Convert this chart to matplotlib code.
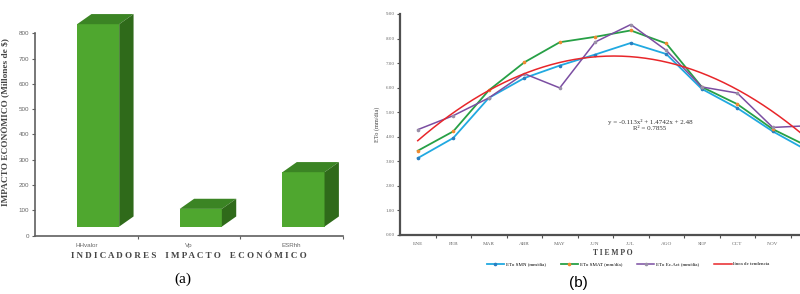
import numpy as np
import matplotlib
matplotlib.use('Agg')
import matplotlib.pyplot as plt
from matplotlib.patches import Polygon

# ============================================================
# 数据
# ============================================================
indicadores = ['HHvalor', 'Vp', 'ESRhh']
impacto = [800, 70, 215]          # Millones de $

meses = ['ENE', 'FEB', 'MAR', 'ABR', 'MAY', 'JUN', 'JUL', 'AGO', 'SEP', 'OCT', 'NOV', 'DIC']
eto_smn = [3.13, 3.95, 5.58, 6.39, 6.90, 7.35, 7.82, 7.37, 5.95, 5.17, 4.22, 3.42]
eto_smat = [3.43, 4.22, 5.89, 7.03, 7.85, 8.07, 8.33, 7.80, 6.03, 5.33, 4.31, 3.60]
eto_ecact = [4.29, 4.86, 5.58, 6.57, 5.99, 7.86, 8.57, 7.52, 6.03, 5.78, 4.38, 4.45]
tendencia_coef = [-0.113, 1.4742, 2.48]   # y = -0.113x² + 1.4742x + 2.48

fig = plt.figure(figsize=(8, 2.94), dpi=100)
serif = 'Liberation Serif'
sans = 'Liberation Sans'
axis_col = '#606060'

# ============================================================
# (a) 3D 柱状图
# ============================================================
ax1 = fig.add_axes([35 / 800, 0.1983, 308 / 800, 0.7745])
ax1.set_xlim(0, 3)
ax1.set_ylim(0, 900)
base = 36
dx, dy = 0.14, 40
for i, v in enumerate(impacto):
    c = i + 0.5
    x0, x1 = c - 0.09, c + 0.32
    top = base + v
    # 正面 / 顶面 / 侧面
    ax1.add_patch(Polygon([(x0, base), (x1, base), (x1, top), (x0, top)],
                          closed=True, facecolor='#4fa72f', edgecolor='none'))
    ax1.add_patch(Polygon([(x0, top), (x1, top), (x1 + dx, top + dy), (x0 + dx, top + dy)],
                          closed=True, facecolor='#3b8424', edgecolor='none'))
    ax1.add_patch(Polygon([(x1, base), (x1 + dx, base + dy), (x1 + dx, top + dy), (x1, top)],
                          closed=True, facecolor='#2f6a1a', edgecolor='none'))

for s in ['top', 'right']:
    ax1.spines[s].set_visible(False)
ax1.spines['left'].set_bounds(0, 800)
for s in ['left', 'bottom']:
    ax1.spines[s].set_color(axis_col)
    ax1.spines[s].set_linewidth(1.2)
ax1.set_yticks(range(0, 801, 100))
ax1.set_yticklabels([str(v) for v in range(0, 801, 100)], fontsize=4.5,
                    color='#666666', family=sans)
ax1.set_xticks([1, 2, 3])
ax1.set_xticklabels([])
ax1.set_xticks([0.5, 1.5, 2.5], minor=True)
ax1.set_xticklabels(indicadores, minor=True, fontsize=4.5, color='#666666', family=sans)
ax1.tick_params(axis='x', which='minor', length=0, pad=5)
ax1.tick_params(axis='both', which='major', length=2, width=0.8, color=axis_col, pad=2)
ax1.set_ylabel('IMPACTO ECONÓMICO (Millones de $)', fontsize=6.7, fontweight='bold',
               family=serif, color='#444444', labelpad=6)
ax1.set_xlabel('I N D I C A D O R E S    I M P A C T O    E C O N Ó M I C O',
               fontsize=6.5, fontweight='bold', family=serif, color='#444444', labelpad=3)
fig.text(183 / 800, 1 - 279 / 294, '(a)', fontsize=11, family=serif,
         ha='center', va='center')

# ============================================================
# (b) ETo 折线图
# ============================================================
ax2 = fig.add_axes([400 / 800, 0.2007, 426 / 800, 0.7517])
x = np.arange(1, 13)
ax2.plot(x, eto_smn, color='#21a9e1', lw=1.3, marker='o', ms=1.6,
         mfc='#2a7fc0', mec='#2a7fc0', label='ETo SMN (mm/día)')
ax2.plot(x, eto_smat, color='#27a046', lw=1.3, marker='o', ms=1.6,
         mfc='#f08a30', mec='#f08a30', label='ETo SMAT (mm/día)')
ax2.plot(x, eto_ecact, color='#7b4ea2', lw=1.1, marker='o', ms=1.6,
         mfc='#9a90a8', mec='#9a90a8', label='ETo Ec.Act (mm/día)')
xs = np.linspace(1, 12, 200)
ax2.plot(xs, np.polyval(tendencia_coef, xs), color='#e8262a', lw=1.1,
         label='línea de tendencia')

ax2.set_xlim(0.5, 12.5)
ax2.set_ylim(0, 9)
for s in ['top', 'right']:
    ax2.spines[s].set_visible(False)
for s in ['left', 'bottom']:
    ax2.spines[s].set_color('#505050')
    ax2.spines[s].set_linewidth(1.6)
ax2.set_yticks(np.arange(0, 9.01, 1))
ax2.set_yticklabels([f'{v:.2f}' for v in np.arange(0, 9.01, 1)], fontsize=3.6,
                    color='#666666', family=serif)
ax2.set_xticks(np.arange(1.5, 12.5, 1))
ax2.set_xticklabels([])
# DIC queda fuera del recorte de la figura
ax2.set_xticks(x[:11], minor=True)
ax2.set_xticklabels(meses[:11], minor=True, fontsize=3.8, color='#666666', family=serif)
ax2.tick_params(axis='x', which='minor', length=0, pad=5)
ax2.tick_params(axis='both', which='major', length=2, width=0.8, color='#505050', pad=2)
ax2.set_ylabel('ETo (mm/día)', fontsize=4.5, family=serif, color='#444444', labelpad=4)
ax2.set_xlabel('T I E M P O', fontsize=5.5, fontweight='bold', family=serif,
               color='#444444', labelpad=2)
fig.text(650 / 800, 1 - 122 / 294, 'y = -0.113x² + 1.4742x + 2.48', fontsize=5,
         family=serif, ha='center', va='center', color='#333333')
fig.text(650 / 800, 1 - 129 / 294, 'R² = 0.7855', fontsize=5,
         family=serif, ha='center', va='center', color='#333333')

fig.legend(*ax2.get_legend_handles_labels(), loc='center', ncol=4,
           bbox_to_anchor=(628 / 800, 1 - 264 / 294), frameon=False,
           prop={'family': serif, 'size': 3.6}, handlelength=3.5,
           columnspacing=3, handletextpad=0.3)
fig.text(578 / 800, 1 - 283 / 294, '(b)', fontsize=11, family=sans,
         ha='center', va='center')

plt.savefig('out.png', dpi=100, facecolor='white')
